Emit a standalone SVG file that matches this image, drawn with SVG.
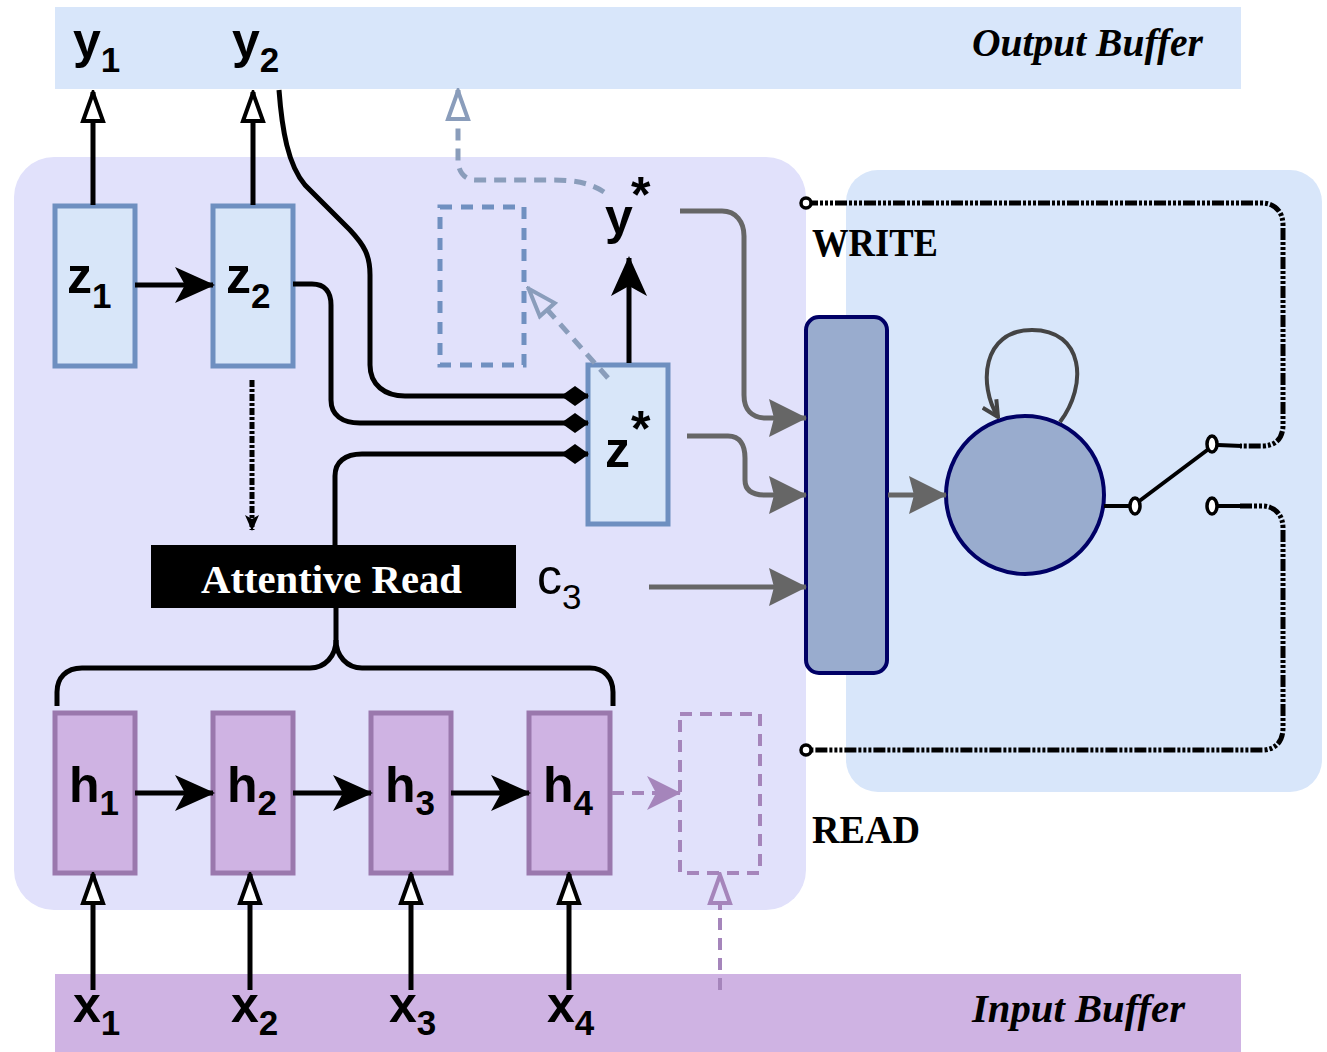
<svg xmlns="http://www.w3.org/2000/svg" width="1327" height="1052" viewBox="0 0 1327 1052">
<style>
.lab{font-family:"Liberation Sans",Arial,sans-serif;font-weight:bold;font-size:50px;fill:#000}
.sub{font-size:35px}
.ser{font-family:"Liberation Serif","Times New Roman",serif;font-size:40px;font-weight:bold;fill:#000}
.buf{font-family:"Liberation Serif","Times New Roman",serif;font-size:40px;font-weight:bold;font-style:italic;fill:#000}
.zbox{fill:#d8e6f9;stroke:#6e8fc0;stroke-width:5}
.hbox{fill:#cfb3e3;stroke:#9a78ad;stroke-width:5}
.ctrl{fill:#99acce;stroke:#000066;stroke-width:4}
.blk{fill:none;stroke:#000;stroke-width:5}
.gry{fill:none;stroke:#666;stroke-width:5}
.bdash{fill:none;stroke:#8a9dbb;stroke-width:5;stroke-dasharray:12 8}
.pdash{fill:none;stroke:#a585bb;stroke-width:4;stroke-dasharray:12 8}
.dots{fill:none;stroke:#000;stroke-width:5;stroke-dasharray:12 2 3 2 3 2 3 2}
.term{fill:#fff;stroke:#000;stroke-width:3.5}
</style>
<defs>
<marker id="ah" markerUnits="userSpaceOnUse" viewBox="0 0 40 36" markerWidth="40" markerHeight="36" refX="38" refY="18" orient="auto"><path d="M0,0 L40,18 L0,36 L10,18 Z" fill="#000"/></marker>
<marker id="ahg" markerUnits="userSpaceOnUse" viewBox="0 0 38 38" markerWidth="38" markerHeight="38" refX="37" refY="19" orient="auto"><path d="M0,0 L38,19 L0,38 L5,19 Z" fill="#666"/></marker>
<marker id="ahp" markerUnits="userSpaceOnUse" viewBox="0 0 34 34" markerWidth="34" markerHeight="34" refX="33" refY="17" orient="auto"><path d="M0,0 L34,17 L0,34 L9,17 Z" fill="#a585bb"/></marker>
<marker id="oh" markerUnits="userSpaceOnUse" viewBox="0 0 34 26" markerWidth="34" markerHeight="26" refX="32" refY="13" orient="auto"><path d="M3,3 L31,13 L3,23 Z" fill="#fff" stroke="#000" stroke-width="4" stroke-linejoin="miter"/></marker>
<marker id="ohb" markerUnits="userSpaceOnUse" viewBox="0 0 34 26" markerWidth="34" markerHeight="26" refX="32" refY="13" orient="auto"><path d="M3,3 L31,13 L3,23 Z" fill="#fff" stroke="#8a9dbb" stroke-width="4"/></marker>
<marker id="ohb2" markerUnits="userSpaceOnUse" viewBox="0 0 34 26" markerWidth="34" markerHeight="26" refX="32" refY="13" orient="auto"><path d="M3,3 L31,13 L3,23 Z" fill="#e1e1fb" stroke="#8a9dbb" stroke-width="4"/></marker>
<marker id="ohp" markerUnits="userSpaceOnUse" viewBox="0 0 34 26" markerWidth="34" markerHeight="26" refX="32" refY="13" orient="auto"><path d="M3,3 L31,13 L3,23 Z" fill="#e1e1fb" stroke="#a585bb" stroke-width="4"/></marker>
<marker id="dm" markerUnits="userSpaceOnUse" viewBox="0 0 28 20" markerWidth="28" markerHeight="20" refX="27" refY="10" orient="auto"><path d="M0,10 L14,0 L28,10 L14,20 Z" fill="#000"/></marker>
<marker id="sm" markerUnits="userSpaceOnUse" viewBox="0 0 16 14" markerWidth="16" markerHeight="14" refX="15" refY="7" orient="auto"><path d="M0,0 L16,7 L0,14 L4,7 Z" fill="#000"/></marker>
<marker id="vh" markerUnits="userSpaceOnUse" viewBox="0 0 20 20" markerWidth="20" markerHeight="20" refX="18" refY="10" orient="auto"><path d="M2,2 L18,10 L2,18" fill="none" stroke="#444" stroke-width="4"/></marker>
</defs>

<g id="backgrounds">
<rect id="output-buffer" x="55" y="7" width="1186" height="82" fill="#d8e6fa"/>
<rect id="input-buffer" x="55" y="974" width="1186" height="78" fill="#cfb3e3"/>
<rect id="encoder-decoder-panel" x="14" y="157" width="792" height="753" rx="40" fill="#e1e1fb"/>
<rect id="memory-panel" x="846" y="170" width="476" height="622" rx="32" fill="#d8e6fa"/>
</g>

<g id="buffer-labels">
<text class="buf" x="972" y="56" textLength="231" lengthAdjust="spacingAndGlyphs">Output Buffer</text>
<text class="buf" x="972" y="1022" textLength="213" lengthAdjust="spacingAndGlyphs">Input Buffer</text>
</g>

<g id="node-y1"><text class="lab" x="73" y="58">y<tspan class="sub" dy="14">1</tspan></text></g>
<g id="node-y2"><text class="lab" x="232" y="58">y<tspan class="sub" dy="14">2</tspan></text></g>

<g id="node-z1"><rect class="zbox" x="55" y="206" width="80" height="160"/><text class="lab" x="67" y="293">z<tspan class="sub" dy="15">1</tspan></text></g>
<g id="node-z2"><rect class="zbox" x="213" y="206" width="80" height="160"/><text class="lab" x="226" y="293">z<tspan class="sub" dy="15">2</tspan></text></g>
<g id="node-ghost-z"><rect x="440" y="207" width="84" height="158" fill="none" stroke="#7090c0" stroke-width="5" stroke-dasharray="12 9"/></g>
<g id="node-zstar"><rect class="zbox" x="588" y="365" width="80" height="159"/><text class="lab" x="605" y="467">z</text><text class="lab" x="631" y="446" font-size="30">*</text></g>
<g id="node-ystar"><text class="lab" x="605" y="234">y</text><text class="lab" x="631" y="212" font-size="30">*</text></g>

<g id="node-attentive-read"><rect x="151" y="545" width="365" height="63" fill="#000"/><text class="ser" x="201" y="593" font-size="42" style="fill:#fff" textLength="261" lengthAdjust="spacingAndGlyphs">Attentive Read</text></g>
<g id="node-c3"><text class="lab" x="537" y="594" style="font-weight:normal">c<tspan class="sub" dy="15">3</tspan></text></g>

<g id="node-h1"><rect class="hbox" x="55" y="713" width="80" height="160"/><text class="lab" x="69" y="802">h<tspan class="sub" dy="13">1</tspan></text></g>
<g id="node-h2"><rect class="hbox" x="213" y="713" width="80" height="160"/><text class="lab" x="227" y="802">h<tspan class="sub" dy="13">2</tspan></text></g>
<g id="node-h3"><rect class="hbox" x="371" y="713" width="80" height="160"/><text class="lab" x="385" y="802">h<tspan class="sub" dy="13">3</tspan></text></g>
<g id="node-h4"><rect class="hbox" x="529" y="713" width="81" height="160"/><text class="lab" x="543" y="802">h<tspan class="sub" dy="13">4</tspan></text></g>
<g id="node-ghost-h"><rect x="680" y="714" width="80" height="159" fill="none" stroke="#a585bb" stroke-width="4" stroke-dasharray="12 8"/></g>

<g id="node-x1"><text class="lab" x="73" y="1022">x<tspan class="sub" dy="13">1</tspan></text></g>
<g id="node-x2"><text class="lab" x="231" y="1022">x<tspan class="sub" dy="13">2</tspan></text></g>
<g id="node-x3"><text class="lab" x="389" y="1022">x<tspan class="sub" dy="13">3</tspan></text></g>
<g id="node-x4"><text class="lab" x="547" y="1022">x<tspan class="sub" dy="13">4</tspan></text></g>

<g id="node-controller"><rect class="ctrl" x="806" y="317" width="81" height="356" rx="13"/></g>
<g id="node-state"><circle class="ctrl" cx="1025" cy="495" r="79"/></g>

<g id="labels-rw">
<text class="ser" x="812" y="256" textLength="126" lengthAdjust="spacingAndGlyphs">WRITE</text>
<text class="ser" x="812" y="843" textLength="108" lengthAdjust="spacingAndGlyphs">READ</text>
</g>

<g id="connectors">
<path class="blk" d="M93,205 L93,92" marker-end="url(#oh)"/>
<path class="blk" d="M253,205 L253,92" stroke-width="4" marker-end="url(#oh)"/>
<path class="blk" d="M135,285 L213,285" marker-end="url(#ah)"/>
<path class="blk" d="M279,90 C282,130 288,165 305,185 L350,230 C364,245 370,255 370,275 L370,365 C370,385 385,396 405,396 L588,396" marker-end="url(#dm)"/>
<path class="blk" d="M293,284 L312,284 C325,284 331,292 331,305 L331,400 C331,415 342,423 360,423 L588,423" marker-end="url(#dm)"/>
<path class="blk" d="M335,545 L335,476 C335,462 345,454 362,454 L588,454" marker-end="url(#dm)"/>
<path d="M252,380 L252,530" fill="none" stroke="#000" stroke-width="5" stroke-dasharray="7 2 3 2" marker-end="url(#sm)"/>
<path class="blk" d="M629,363 L629,258" marker-end="url(#ah)"/>
<path class="bdash" d="M608,378 L528,288" marker-end="url(#ohb2)"/>
<path class="bdash" d="M604,192 C590,183 575,180 553,180 L475,180 C465,180 458,172 458,160 L458,90" marker-end="url(#ohb)"/>
<path class="blk" d="M336,608 L336,640 C336,656 325,668 310,668 L82,668 C66,668 57,678 57,692 L57,706"/>
<path class="blk" d="M336,640 C336,656 347,668 362,668 L590,668 C604,668 613,678 613,692 L613,706"/>
<path class="blk" d="M135,793 L213,793" marker-end="url(#ah)"/>
<path class="blk" d="M293,793 L371,793" marker-end="url(#ah)"/>
<path class="blk" d="M451,793 L529,793" marker-end="url(#ah)"/>
<path class="pdash" d="M612,793 L680,793" marker-end="url(#ahp)"/>
<path class="blk" d="M93,990 L93,874" marker-end="url(#oh)"/>
<path class="blk" d="M250,990 L250,874" marker-end="url(#oh)"/>
<path class="blk" d="M411,990 L411,874" marker-end="url(#oh)"/>
<path class="blk" d="M569,990 L569,874" marker-end="url(#oh)"/>
<path class="pdash" d="M720,990 L720,874" marker-end="url(#ohp)"/>
<path class="gry" d="M680,211 L722,211 C736,211 744,222 744,236 L744,395 C744,410 752,418 766,418 L806,418" marker-end="url(#ahg)"/>
<path class="gry" d="M687,436 L728,436 C740,436 745,445 745,458 L745,480 C745,490 752,495 765,495 L806,495" marker-end="url(#ahg)"/>
<path class="gry" d="M649,587 L806,587" marker-end="url(#ahg)"/>
<path class="gry" d="M888,495 L946,495" marker-end="url(#ahg)"/>
<path d="M1060,422 C1088,385 1084,330 1032,330 C982,330 978,385 998,417" fill="none" stroke="#444" stroke-width="4" marker-end="url(#vh)"/>
<path class="dots" d="M806,203 L1262,203 C1275,203 1283,212 1283,225 L1283,425 C1283,439 1275,446 1262,446 L1240,446"/>
<path class="dots" d="M1240,506 L1262,506 C1275,506 1283,515 1283,528 L1283,728 C1283,742 1275,750 1262,750 L806,750"/>
<path d="M1218,445 L1242,446 M1218,506 L1242,506 M1104,506 L1131,506 M1138,502 L1210,448" fill="none" stroke="#000" stroke-width="4"/>
<circle class="term" cx="806" cy="203" r="5"/>
<circle class="term" cx="806" cy="750" r="5"/>
<ellipse class="term" cx="1135" cy="506" rx="5" ry="8"/>
<ellipse class="term" cx="1212" cy="444" rx="5" ry="8"/>
<ellipse class="term" cx="1212" cy="506" rx="5" ry="8"/>
</g>
</svg>
